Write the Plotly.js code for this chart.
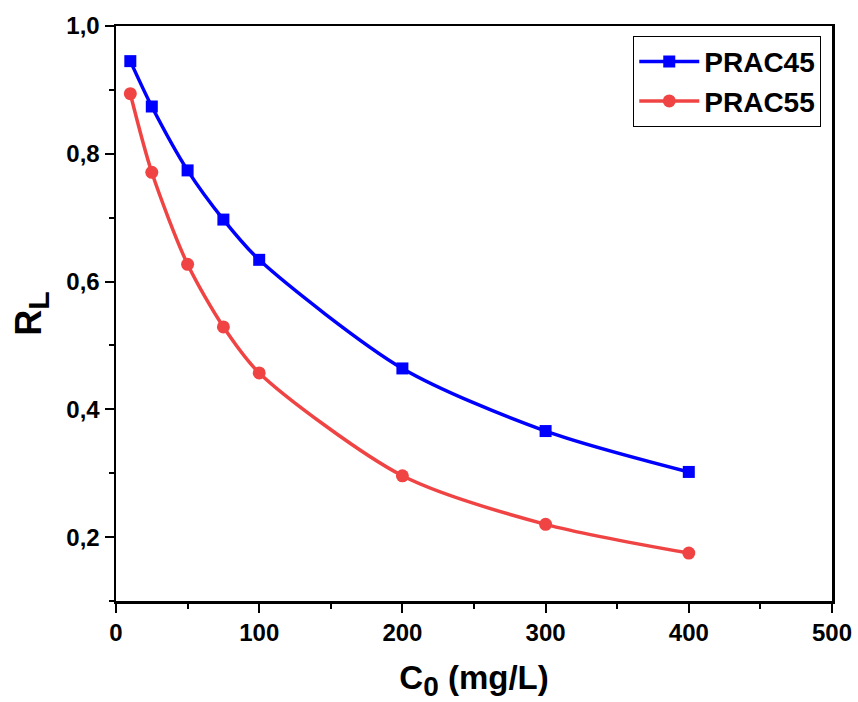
<!DOCTYPE html>
<html>
<head>
<meta charset="utf-8">
<script src="https://cdn.plot.ly/plotly-3.0.1.min.js"></script>
<style>html,body{margin:0;padding:0;background:#fff;}#chart{width:858px;height:702px;}</style>
</head>
<body>
<div id="chart"></div>
<script>
const c0 = [10, 25, 50, 75, 100, 200, 300, 400];
const prac45 = [0.945, 0.874, 0.774, 0.697, 0.634, 0.464, 0.366, 0.302];
const prac55 = [0.894, 0.771, 0.627, 0.529, 0.457, 0.296, 0.220, 0.175];
const seriesNames = ['PRAC45', 'PRAC55'];
const xTickVals = [0, 100, 200, 300, 400, 500];
const xTickText = ['0', '100', '200', '300', '400', '500'];
const yTickVals = [0.2, 0.4, 0.6, 0.8, 1.0];
const yTickText = ['0,2', '0,4', '0,6', '0,8', '1,0'];

const font = 'Liberation Sans, Arial, sans-serif';
const bold = s => '<b>' + s + '</b>';
const traces = [
  {x: c0, y: prac45, name: bold(seriesNames[0]), type: 'scatter', mode: 'lines+markers',
   line: {color: '#0000FF', width: 3.5, shape: 'spline', smoothing: 0.8},
   marker: {symbol: 'square', size: 12, color: '#0000FF'}},
  {x: c0, y: prac55, name: bold(seriesNames[1]), type: 'scatter', mode: 'lines+markers',
   line: {color: '#F04444', width: 3.5, shape: 'spline', smoothing: 0.8},
   marker: {symbol: 'circle', size: 13, color: '#F04444'}}
];
const layout = {
  width: 858, height: 702,
  margin: {l: 116, r: 26, t: 26, b: 101},
  paper_bgcolor: '#fff', plot_bgcolor: '#fff',
  showlegend: true,
  legend: {x: 0.985, y: 0.983, xanchor: 'right', yanchor: 'top',
    bordercolor: '#000', borderwidth: 1, bgcolor: '#fff',
    font: {family: font, size: 28, color: '#000'},
    itemwidth: 60, tracegroupgap: 0},
  xaxis: {range: [0, 500], tickmode: 'array', tickvals: xTickVals, ticktext: xTickText.map(bold),
    showgrid: false, zeroline: false,
    showline: true, linecolor: '#000', linewidth: 2.5, mirror: true,
    ticks: 'outside', ticklen: 9, tickwidth: 2, tickcolor: '#000',
    minor: {dtick: 50, tick0: 0, ticks: 'outside', ticklen: 5, tickwidth: 2, tickcolor: '#000'},
    tickfont: {family: font, size: 24, color: '#000'},
    title: {text: '<b>C<sub><span style="font-size:28px">0</span></sub> (mg/L)</b>', font: {family: font, size: 33, color: '#000'}, standoff: 26}},
  yaxis: {range: [0.1, 1.0], tickmode: 'array', tickvals: yTickVals, ticktext: yTickText.map(bold),
    showgrid: false, zeroline: false,
    showline: true, linecolor: '#000', linewidth: 2.5, mirror: true,
    ticks: 'outside', ticklen: 9, tickwidth: 2, tickcolor: '#000',
    minor: {dtick: 0.1, tick0: 0.1, ticks: 'outside', ticklen: 5, tickwidth: 2, tickcolor: '#000'},
    tickfont: {family: font, size: 24, color: '#000'},
    title: {text: '<b>R<sub><span style="font-size:30px">L</span></sub></b>', font: {family: font, size: 36, color: '#000'}, standoff: 14}}
};
Plotly.newPlot('chart', traces, layout, {displayModeBar: false, staticPlot: true});
</script>
</body>
</html>
